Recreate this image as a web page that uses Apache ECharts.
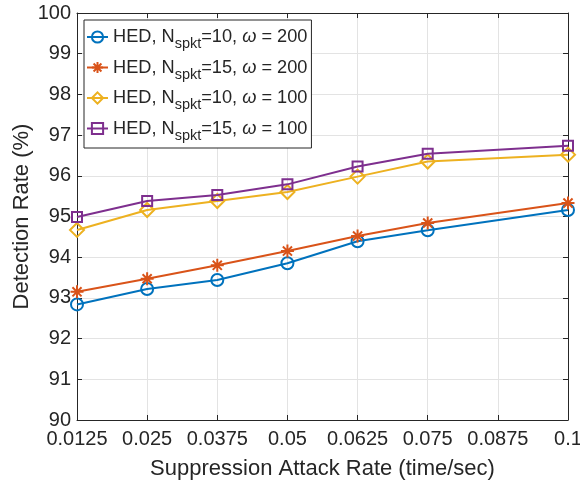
<!DOCTYPE html>
<html>
<head>
<meta charset="utf-8">
<script src="https://cdn.jsdelivr.net/npm/echarts@6/dist/echarts.min.js"></script>
<style>html,body{margin:0;padding:0;background:#fff;}#c{width:580px;height:487px;}</style>
</head>
<body>
<div id="c"></div>
<script>
// ---- data ----
const xValues = [0.0125, 0.025, 0.0375, 0.05, 0.0625, 0.075, 0.1];
const xTickMin = 0.0125, xTickMax = 0.1, xTickStep = 0.0125;
const yTickMin = 90, yTickMax = 100, yTickStep = 1;
const seriesN = [10, 15, 10, 15];
const seriesOmega = [200, 200, 100, 100];
const blueVals   = [92.84, 93.22, 93.44, 93.85, 94.39, 94.66, 95.16];
const orangeVals = [93.15, 93.47, 93.80, 94.15, 94.52, 94.84, 95.33];
const yellowVals = [94.67, 95.16, 95.38, 95.60, 95.98, 96.35, 96.52];
const purpleVals = [94.99, 95.38, 95.53, 95.79, 96.23, 96.54, 96.74];
const xTitle = 'Suppression Attack Rate (time/sec)';
const yTitle = 'Detection Rate (%)';

const allVals = [blueVals, orangeVals, yellowVals, purpleVals];
const colors = ['#0072BD', '#D95319', '#EDB120', '#7E2F8E'];
const symbols = ['circle', 'path://M0,-10L0,10M-10,0L10,0M-7,-7L7,7M-7,7L7,-7', 'diamond', 'rect'];
const symbolSizes = [12, 13, 14, 10];
const names = seriesN.map((n, i) => 'HED, N_spkt=' + n + ', \u03c9 = ' + seriesOmega[i]);
const FONT = '"Liberation Sans", Arial, Helvetica, sans-serif';
const TXT = '#262626';

const chart = echarts.init(document.getElementById('c'), null, {renderer: 'canvas'});

const fmtX = v => String(parseFloat(v.toFixed(4)));

const series = allVals.map((vals, i) => ({
  name: names[i],
  type: 'line',
  xAxisIndex: 0, yAxisIndex: 0,
  data: xValues.map((x, j) => [x, vals[j]]),
  symbol: symbols[i],
  symbolSize: symbolSizes[i],
  showAllSymbol: true,
  lineStyle: {color: colors[i], width: 2},
  itemStyle: {color: 'rgba(255,255,255,0)', borderColor: colors[i], borderWidth: 2},
  emphasis: {disabled: true},
  animation: false,
  z: 3 + i
}));

const option = {
  backgroundColor: '#ffffff',
  animation: false,
  grid: {left: 77, right: 12, top: 13, bottom: 67, outerBoundsMode: 'none', containLabel: false},
  xAxis: [{
    type: 'value', position: 'bottom', min: xTickMin, max: xTickMax, interval: xTickStep,
    name: xTitle, nameLocation: 'middle', nameGap: 38, nameMoveOverlap: false,
    nameTextStyle: {fontSize: 22, color: TXT, fontFamily: FONT},
    axisLine: {show: true, onZero: false, lineStyle: {color: TXT, width: 1}},
    axisTick: {show: true, inside: true, length: 5, lineStyle: {color: TXT}},
    axisLabel: {show: true, formatter: fmtX, fontSize: 20, color: TXT, fontFamily: FONT, margin: 9},
    splitLine: {show: true, lineStyle: {color: '#e3e3e3', width: 1}}
  }, {
    type: 'value', position: 'top', min: xTickMin, max: xTickMax, interval: xTickStep,
    axisLine: {show: true, onZero: false, lineStyle: {color: TXT, width: 1}},
    axisTick: {show: true, inside: true, length: 5, lineStyle: {color: TXT}},
    axisLabel: {show: false}, splitLine: {show: false}
  }],
  yAxis: [{
    type: 'value', position: 'left', min: yTickMin, max: yTickMax, interval: yTickStep,
    name: yTitle, nameLocation: 'middle', nameGap: 44, nameMoveOverlap: false,
    nameTextStyle: {fontSize: 22, color: TXT, fontFamily: FONT},
    axisLine: {show: true, onZero: false, lineStyle: {color: TXT, width: 1}},
    axisTick: {show: true, inside: true, length: 5, lineStyle: {color: TXT}},
    axisLabel: {show: true, fontSize: 20, color: TXT, fontFamily: FONT, margin: 6},
    splitLine: {show: true, lineStyle: {color: '#e3e3e3', width: 1}}
  }, {
    type: 'value', position: 'right', min: yTickMin, max: yTickMax, interval: yTickStep,
    axisLine: {show: true, onZero: false, lineStyle: {color: TXT, width: 1}},
    axisTick: {show: true, inside: true, length: 5, lineStyle: {color: TXT}},
    axisLabel: {show: false}, splitLine: {show: false}
  }],
  legend: {
    show: true, orient: 'vertical', left: 84, top: 20,
    data: names,
    itemWidth: 21, itemHeight: 14, itemGap: 7,
    padding: [8, 4, 5, 2],
    backgroundColor: '#ffffff', borderColor: TXT, borderWidth: 1,
    selectedMode: false,
    formatter: function (name) {
      const i = names.indexOf(name);
      return '{n|HED, N}{s|spkt}{n|=' + seriesN[i] + ', }{w|\u03c9}{n| = ' + seriesOmega[i] + '}';
    },
    textStyle: {
      color: TXT, fontSize: 18, fontFamily: FONT,
      rich: {
        n: {color: TXT, fontSize: 18.2, fontFamily: FONT},
        s: {color: TXT, fontSize: 14.5, fontFamily: FONT, padding: [14, 0, 0, 0]},
        w: {color: TXT, fontSize: 18.2, fontFamily: FONT, fontStyle: 'italic'}
      }
    }
  },
  series: series
};
chart.setOption(option);
</script>
</body>
</html>
